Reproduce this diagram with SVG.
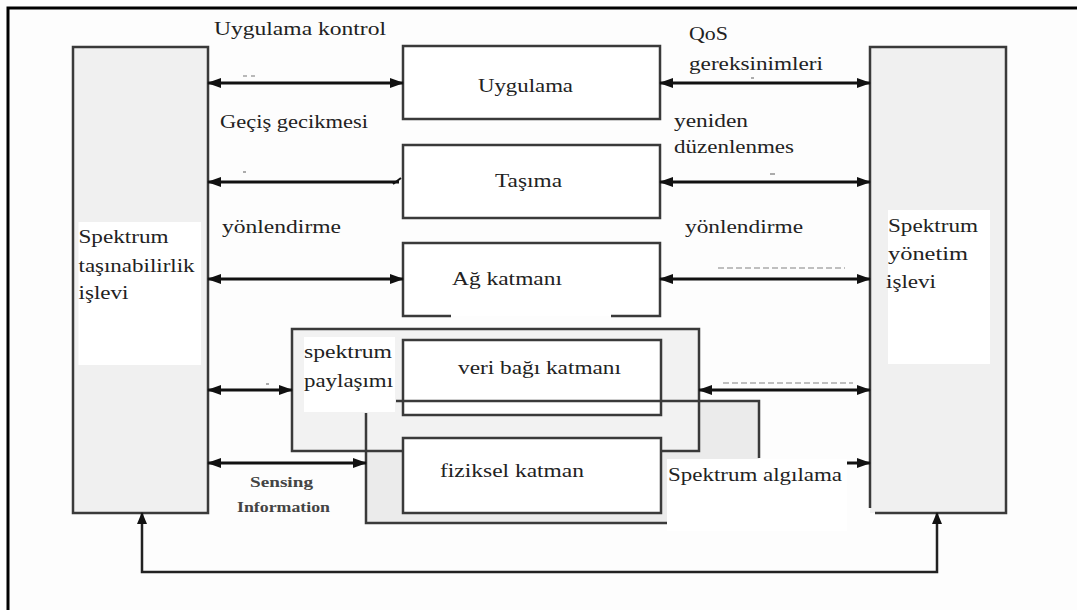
<svg xmlns="http://www.w3.org/2000/svg" width="1077" height="610" viewBox="0 0 1077 610">
  <defs>
    <marker id="ah" viewBox="0 0 14 10" refX="13" refY="5" markerWidth="14" markerHeight="11" markerUnits="userSpaceOnUse" orient="auto-start-reverse">
      <path d="M0,0 L14,5 L0,10 z" fill="#111"/>
    </marker>
    <marker id="ahs" viewBox="0 0 12 10" refX="11" refY="5" markerWidth="12" markerHeight="10" markerUnits="userSpaceOnUse" orient="auto-start-reverse">
      <path d="M0,0 L12,5 L0,10 z" fill="#111"/>
    </marker>
    <style>
      .t{font-family:"Liberation Serif","Noto Serif",serif;font-size:18px;fill:#222}
      .sn{font-family:"Liberation Serif","Noto Serif",serif;font-size:15px;font-weight:bold;fill:#444}
      .panel{fill:#f0f0f0}
      .edge{fill:none;stroke:#3a3a3a;stroke-width:2.5}
      .box{fill:#fff;stroke:#3a3a3a;stroke-width:2.5}
      .lbl{fill:#fff}
      .conn{fill:none;stroke:#111;stroke-width:3}
      .fb{fill:none;stroke:#222;stroke-width:2.5}
      .tick{fill:none;stroke:#777;stroke-width:1.2}
      .faint{fill:none;stroke:#aaa;stroke-width:1.5;stroke-dasharray:6 3}
    </style>
  </defs>

  <rect x="0" y="0" width="1077" height="610" fill="#fdfdfd"/>
  <!-- outer frame -->
  <path d="M8,610 V8 H1077" fill="none" stroke="#000" stroke-width="3"/>

  <!-- left function column -->
  <g id="spektrum-tasinabilirlik">
    <rect class="panel" x="73" y="47" width="135" height="466"/>
    <rect class="edge" x="73" y="47" width="135" height="466"/>
    <rect class="lbl" x="78.5" y="222" width="122.5" height="143"/>
    <text class="t" x="78.5" y="243" textLength="90" lengthAdjust="spacingAndGlyphs">Spektrum</text>
    <text class="t" x="78.5" y="272" textLength="116" lengthAdjust="spacingAndGlyphs">taşınabilirlik</text>
    <text class="t" x="78.5" y="299" textLength="50" lengthAdjust="spacingAndGlyphs">işlevi</text>
  </g>

  <!-- right function column -->
  <g id="spektrum-yonetim">
    <rect class="panel" x="870" y="47" width="136" height="466"/>
    <path class="edge" d="M870,508 V47 H1006 V513 H875"/>
    <rect class="lbl" x="888" y="210" width="102" height="154"/>
    <text class="t" x="888" y="232" textLength="90" lengthAdjust="spacingAndGlyphs">Spektrum</text>
    <text class="t" x="888" y="260" textLength="80" lengthAdjust="spacingAndGlyphs">yönetim</text>
    <text class="t" x="886" y="288" textLength="50" lengthAdjust="spacingAndGlyphs">işlevi</text>
  </g>

  <!-- protocol stack -->
  <g id="uygulama">
    <rect class="box" x="403" y="46" width="257" height="73"/>
    <text class="t" x="478" y="92" textLength="95" lengthAdjust="spacingAndGlyphs">Uygulama</text>
  </g>

  <g id="tasima">
    <rect class="box" x="403" y="145" width="257" height="73"/>
    <text class="t" x="495" y="187" textLength="67" lengthAdjust="spacingAndGlyphs">Taşıma</text>
  </g>

  <g id="ag-katmani">
    <rect class="lbl" x="403" y="243" width="257" height="73"/>
    <path class="edge" d="M451,316 H403 V243 H660 V316 H611"/>
    <text class="t" x="452" y="285" textLength="110" lengthAdjust="spacingAndGlyphs">Ağ katmanı</text>
  </g>

  <!-- sensing block background -->
  <g id="algilama-blogu-zemin">
    <path d="M366,400 H759 V459 H667 V523 H366 z" fill="#ebebeb"/>
  </g>

  <g id="spektrum-paylasimi">
    <rect x="292" y="329" width="407" height="122" fill="#f2f2f2" stroke="#3a3a3a" stroke-width="2.5"/>
    <rect class="lbl" x="304" y="337" width="91" height="75"/>
    <text class="t" x="304" y="358" textLength="88" lengthAdjust="spacingAndGlyphs">spektrum</text>
    <text class="t" x="304" y="387" textLength="89" lengthAdjust="spacingAndGlyphs">paylaşımı</text>
  </g>

  <g id="veri-bagi-katmani">
    <rect class="box" x="403" y="340" width="258" height="75"/>
    <text class="t" x="458" y="374" textLength="163" lengthAdjust="spacingAndGlyphs">veri bağı katmanı</text>
  </g>

  <g id="algilama-blogu">
    <path class="edge" d="M396,401 H759 V458"/>
    <path class="edge" d="M366,413 V523 H668"/>
  </g>

  <g id="fiziksel-katman">
    <rect class="box" x="403" y="438" width="258" height="75"/>
    <text class="t" x="440" y="477" textLength="144" lengthAdjust="spacingAndGlyphs">fiziksel katman</text>
  </g>

  <g id="spektrum-algilama">
    <rect class="lbl" x="667" y="459" width="180" height="72"/>
    <text class="t" x="668" y="481" textLength="174" lengthAdjust="spacingAndGlyphs">Spektrum algılama</text>
  </g>

  <!-- connectors -->
  <g id="baglantilar">
    <path class="conn" d="M208,83 H403" marker-start="url(#ah)" marker-end="url(#ah)"/>
    <path class="conn" d="M660,83 H870" marker-start="url(#ah)" marker-end="url(#ah)"/>
    <path class="conn" d="M208,182 H399" marker-start="url(#ah)"/>
    <path d="M393,184 L401,178" fill="none" stroke="#111" stroke-width="2"/>
    <path class="conn" d="M660,182 H870" marker-start="url(#ah)" marker-end="url(#ah)"/>
    <path class="conn" d="M208,279 H403" marker-start="url(#ah)" marker-end="url(#ah)"/>
    <path class="conn" d="M660,279 H870" marker-start="url(#ah)" marker-end="url(#ah)"/>
    <path class="conn" d="M208,390 H292" marker-start="url(#ah)" marker-end="url(#ah)"/>
    <path class="conn" d="M699,390 H870" marker-start="url(#ah)" marker-end="url(#ah)"/>
    <path class="conn" d="M208,463 H366" marker-start="url(#ah)" marker-end="url(#ah)"/>
    <path class="conn" d="M847,463 H870" marker-end="url(#ah)"/>
    <path class="fb" d="M142,513 V572 H937 V513" marker-start="url(#ahs)" marker-end="url(#ahs)"/>

    <!-- small residual ticks along the arrows -->
    <path class="tick" d="M243,76 h4 M251,76 h4"/>
    <path class="tick" d="M243,172 h3"/>
    <path class="tick" d="M751,78 h3"/>
    <path class="tick" d="M770,174 h5"/>
    <path class="tick" d="M266,384 h3"/>
    <path class="faint" d="M718,268 H845"/>
    <path class="faint" d="M723,383 H853" stroke="#ccc"/>
  </g>

  <!-- connector labels -->
  <g id="etiketler">
    <text class="t" x="214" y="35" textLength="172" lengthAdjust="spacingAndGlyphs">Uygulama kontrol</text>
    <text class="t" x="220" y="128" textLength="148" lengthAdjust="spacingAndGlyphs">Geçiş gecikmesi</text>
    <text class="t" x="222" y="233" textLength="119" lengthAdjust="spacingAndGlyphs">yönlendirme</text>
    <text class="t" x="689" y="40" textLength="39" lengthAdjust="spacingAndGlyphs">QoS</text>
    <text class="t" x="689" y="70" textLength="134" lengthAdjust="spacingAndGlyphs">gereksinimleri</text>
    <text class="t" x="674" y="127" textLength="74" lengthAdjust="spacingAndGlyphs">yeniden</text>
    <text class="t" x="674" y="153" textLength="120" lengthAdjust="spacingAndGlyphs">düzenlenmes</text>
    <text class="t" x="685" y="233" textLength="118" lengthAdjust="spacingAndGlyphs">yönlendirme</text>
    <text class="sn" x="250" y="487" textLength="63" lengthAdjust="spacingAndGlyphs">Sensing</text>
    <text class="sn" x="237" y="512" textLength="93" lengthAdjust="spacingAndGlyphs">Information</text>
  </g>
</svg>
